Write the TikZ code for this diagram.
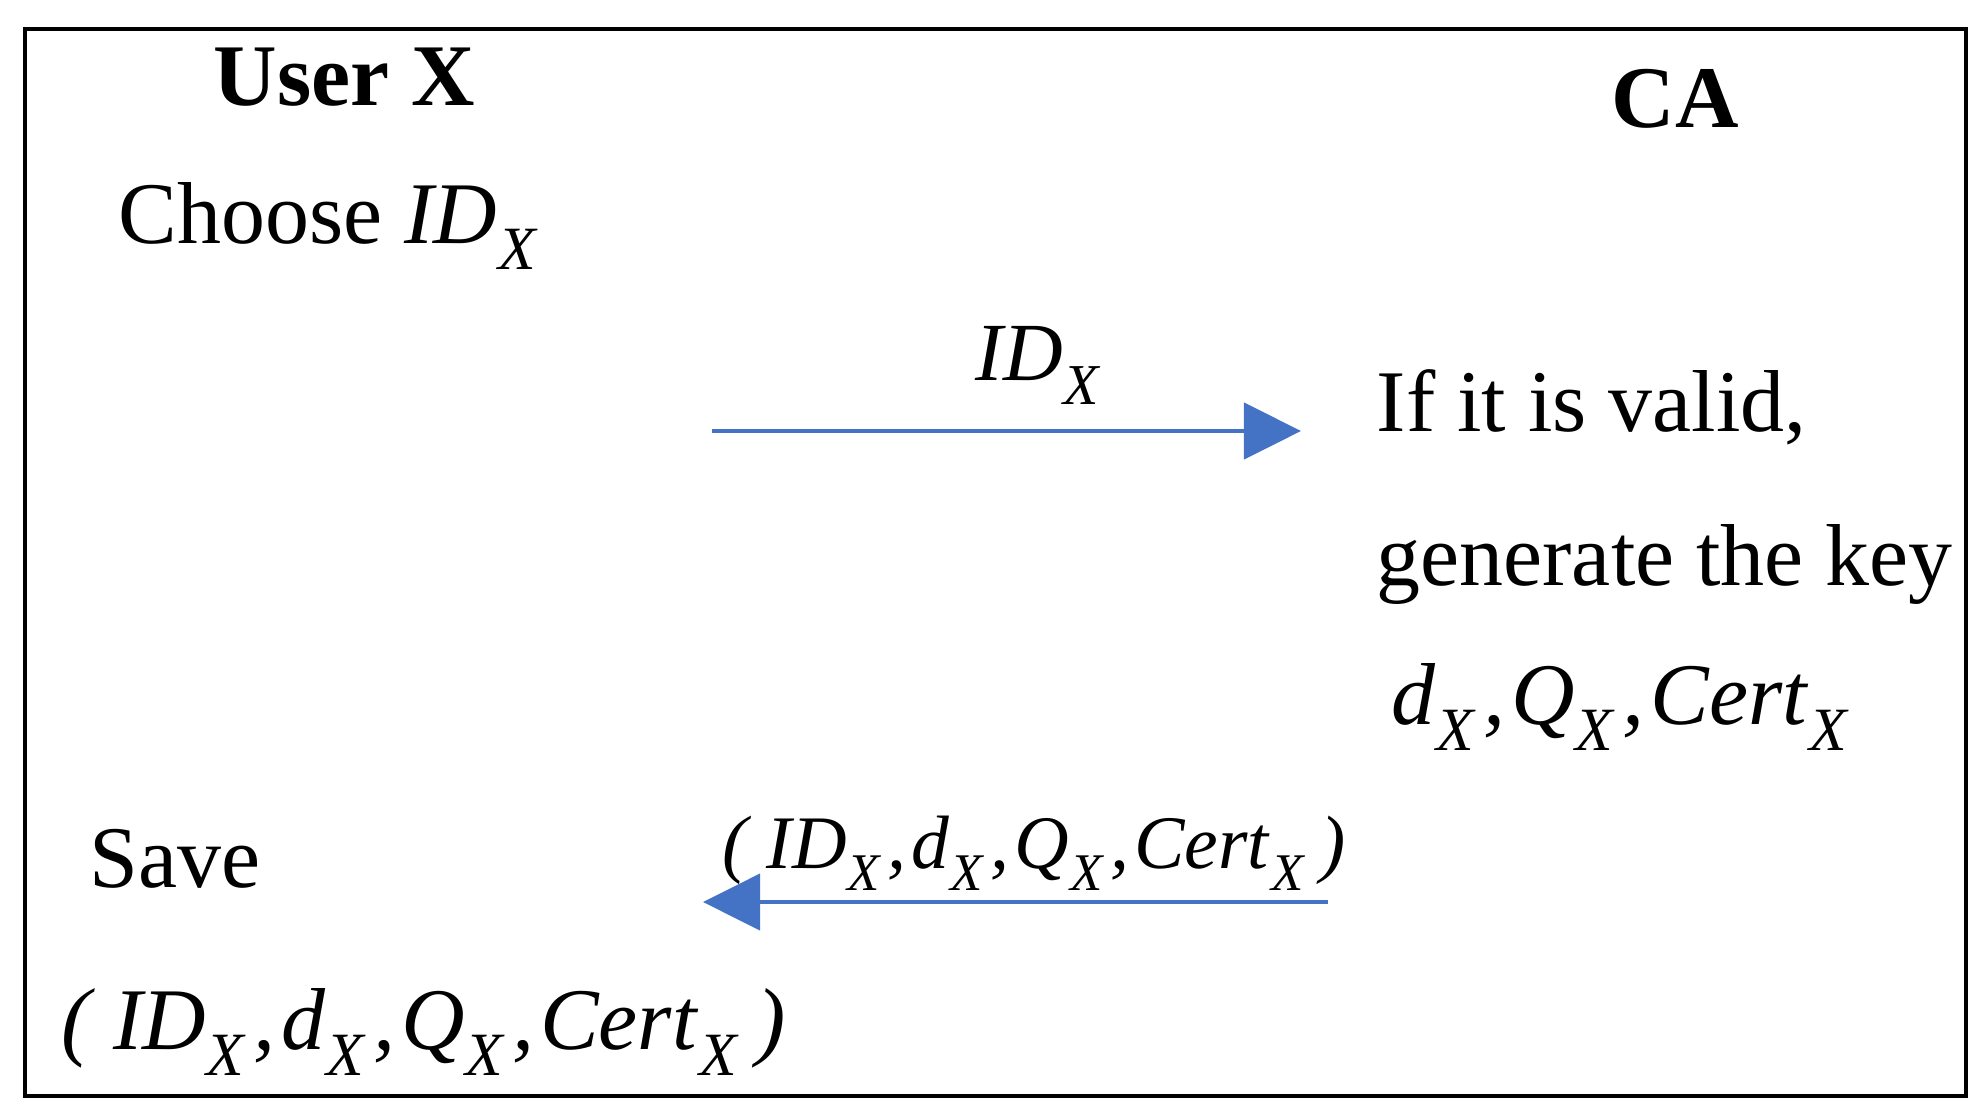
\documentclass[tikz,border=0pt]{standalone}
\usepackage{fontspec}
\setmainfont{Liberation Serif}
\usetikzlibrary{arrows.meta}
\newcommand{\sx}{\kern0.01em\raisebox{-0.3em}{\scalebox{0.7}{\textit{X}}}}
\newcommand{\vX}[1]{\textit{#1}\sx}
\newcommand{\cm}{\kern0.08em\textit{,}\kern0.07em}
\newcommand{\tuple}{\textit{(}\kern0.2em\vX{ID}\cm\vX{d}\cm\vX{Q}\cm\vX{Cert}\kern0.2em\textit{)}}
\definecolor{arrowblue}{HTML}{4472C4}
\tikzset{
  txt/.style={anchor=base west, inner sep=0pt, font=\fontsize{25}{30}\selectfont},
  ttl/.style={anchor=base west, inner sep=0pt, font=\fontsize{25}{30}\selectfont\bfseries},
  msg/.style={draw=arrowblue, line width=1.2pt, -{Triangle[length=0.57cm,width=0.56cm]}, color=arrowblue}
}
\begin{document}
\begin{tikzpicture}[x=0.01cm,y=-0.01cm]
\useasboundingbox (0,0) rectangle (1986,1118);
\draw[line width=1.2pt] (25,29) rectangle (1966,1096);
\node[ttl] (user) at (213,105) {User X};
\node[ttl] (ca) at (1611,127) {CA};
\node[txt] (choose) at (118,243) {Choose \vX{ID}};
\node[txt,font=\fontsize{23.5}{28}\selectfont] (lab1) at (975,380) {\vX{ID}};
\coordinate (a1s) at (712,431);
\coordinate (a1e) at (1301,431);
\draw[msg] (a1s) -- (a1e);
\node[txt] (valid) at (1376,431) {If it is valid,};
\node[txt] (gen) at (1376,585) {generate the key};
\node[txt,font=\fontsize{25}{30}\selectfont] (keys) at (1391,724) {\vX{d}\cm\vX{Q}\cm\vX{Cert}};
\node[txt,font=\fontsize{21.5}{26}\selectfont] (lab2) at (722,868) {\tuple};
\coordinate (a2s) at (1328,902);
\coordinate (a2e) at (703,902);
\draw[msg] (a2s) -- (a2e);
\node[txt] (save) at (89,887) {Save};
\node[txt,font=\fontsize{25}{30}\selectfont] (saved) at (61,1049) {\tuple};
\end{tikzpicture}
\end{document}
